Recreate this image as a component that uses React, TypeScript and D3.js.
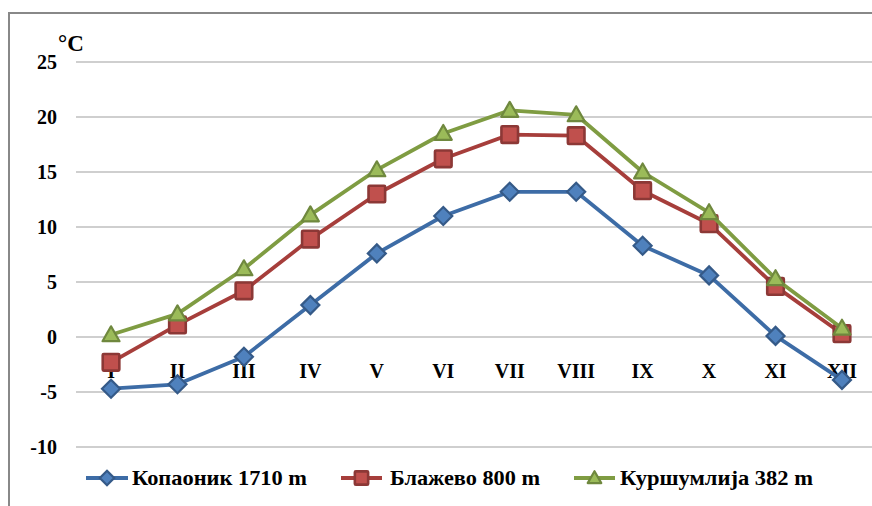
import React from "react";
import * as d3 from "d3";

const months = ["I", "II", "III", "IV", "V", "VI", "VII", "VIII", "IX", "X", "XI", "XII"];
const kopaonik = [-4.7, -4.3, -1.8, 2.9, 7.6, 11.0, 13.2, 13.2, 8.3, 5.6, 0.1, -3.9];
const blazevo = [-2.3, 1.1, 4.2, 8.9, 13.0, 16.2, 18.4, 18.3, 13.3, 10.3, 4.6, 0.3];
const kursumlija = [0.2, 2.1, 6.2, 11.1, 15.2, 18.5, 20.6, 20.2, 15.0, 11.3, 5.3, 0.8];
const yTicks = [25, 20, 15, 10, 5, 0, -5, -10];
const seriesNames = ["Копаоник 1710 m", "Блажево 800 m", "Куршумлија 382 m"];

const W = 872;
const H = 506;
const FONT = "'Liberation Serif', Tinos, 'Times New Roman', 'DejaVu Serif', serif";

const styles = [
  { line: "#3d6ca6", fill: "#4f81bd", stroke: "#355a88", shape: "diamond" },
  { line: "#a63e3b", fill: "#c0504d", stroke: "#8c3836", shape: "square" },
  { line: "#7f9c42", fill: "#9bbb59", stroke: "#6f883e", shape: "triangle" },
];

function Marker({ x, y, shape, fill, stroke, s = 1 }: any) {
  if (shape === "diamond") {
    const r = 9 * s;
    return <path d={`M${x},${y - r}L${x + r},${y}L${x},${y + r}L${x - r},${y}Z`} fill={fill} stroke={stroke} strokeWidth={2.2} />;
  }
  if (shape === "square") {
    const r = 8.3 * s;
    return <rect x={x - r} y={y - r} width={2 * r} height={2 * r} rx={1} fill={fill} stroke={stroke} strokeWidth={2.6} />;
  }
  const r = 8.5 * s;
  return <path d={`M${x},${y - r}L${x + r},${y + r * 0.75}L${x - r},${y + r * 0.75}Z`} fill={fill} stroke={stroke} strokeWidth={2.2} strokeLinejoin="round" />;
}

const textStyle = { fontFamily: FONT, fontWeight: "bold" as const };

export default function App() {
  const x = d3.scalePoint<string>().domain(months).range([77.8, 875.2]).padding(0.5);
  const y = d3.scaleLinear().domain([-10, 25]).range([447, 62]);
  const data = [kopaonik, blazevo, kursumlija];
  const line = d3
    .line<number>()
    .x((_, i) => x(months[i]) as number)
    .y((d) => y(d));

  const legendLine = [[86, 128], [341, 382], [574, 615]];
  const legendText = [[132, 175], [390, 150], [620, 193]];

  return (
    <svg width={W} height={H} style={{ position: "absolute", left: 0, top: 0 }}>
      <rect x={0} y={0} width={W} height={H} fill="#fff" />
      <path d={`M9,${H}V13H${W}`} fill="none" stroke="#888" strokeWidth={2} />
      {yTicks.map((t) => (
        <g key={t}>
          <line x1={76} x2={W} y1={y(t)} y2={y(t)} stroke="#a0a0a0" strokeWidth={1.2} />
          <text x={57} y={y(t) + 6.5} textAnchor="end" style={{ ...textStyle, fontSize: 20 }} fill="#000">
            {t}
          </text>
        </g>
      ))}
      <text x={58} y={51} style={{ ...textStyle, fontSize: 23 }} fill="#000">°C</text>
      {months.map((m) => (
        <text key={m} x={x(m)} y={378} textAnchor="middle" style={{ ...textStyle, fontSize: 20 }} fill="#000">
          {m}
        </text>
      ))}
      {data.map((d, si) => (
        <g key={si}>
          <path d={line(d) as string} fill="none" stroke={styles[si].line} strokeWidth={3.8} strokeLinejoin="round" />
          {d.map((v, i) => (
            <Marker key={i} x={x(months[i])} y={y(v)} shape={styles[si].shape} fill={styles[si].fill} stroke={styles[si].stroke} />
          ))}
        </g>
      ))}
      {seriesNames.map((n, si) => (
        <g key={n}>
          <line x1={legendLine[si][0]} x2={legendLine[si][1]} y1={478} y2={478} stroke={styles[si].line} strokeWidth={3.8} />
          <Marker
            x={(legendLine[si][0] + legendLine[si][1]) / 2}
            y={478}
            shape={styles[si].shape}
            fill={styles[si].fill}
            stroke={styles[si].stroke}
            s={0.8}
          />
          <text
            x={legendText[si][0]}
            y={485}
            style={{ ...textStyle, fontSize: 21 }}
            fill="#000"
            textLength={legendText[si][1]}
            lengthAdjust="spacingAndGlyphs"
          >
            {n}
          </text>
        </g>
      ))}
    </svg>
  );
}
